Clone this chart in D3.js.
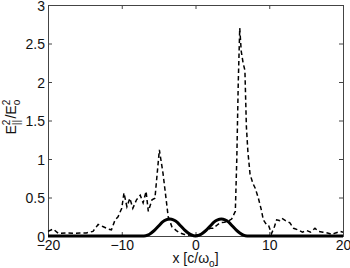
<!DOCTYPE html>
<html>
<head>
<meta charset="utf-8">
<script src="https://cdn.jsdelivr.net/npm/d3@7"></script>
<style>
  body { margin: 0; background: #fff; }
  svg text { font-family: "Liberation Sans", Arial, sans-serif; fill: #111; }
</style>
</head>
<body>
<div id="chart"></div>
<script>
// data
var xTicks = [-20, -10, 0, 10, 20];
var yTicks = [0, 0.5, 1, 1.5, 2, 2.5, 3];

// dashed curve: E_||^2 / E_o^2
var dashedPts = [
  [-20, 0.06], [-19.3, 0.09], [-18.6, 0.035], [-17.5, 0.04], [-16.6, 0.035], [-15.7, 0.04],
  [-14.8, 0.04], [-13.9, 0.06], [-13.2, 0.15], [-12.5, 0.12], [-11.8, 0.09], [-11.4, 0.08],
  [-10.9, 0.21], [-10.5, 0.25], [-10.0, 0.36], [-9.7, 0.56], [-9.3, 0.38], [-8.9, 0.49],
  [-8.5, 0.36], [-8.0, 0.47], [-7.5, 0.53], [-7.1, 0.43], [-6.7, 0.58], [-6.4, 0.32],
  [-5.9, 0.47], [-5.5, 0.49], [-4.9, 1.12], [-4.4, 0.81], [-3.7, 0.25], [-3.2, 0.12],
  [-2.6, 0.07], [-2.1, 0.04], [-1.5, 0.02], [-1.0, 0.01], [-0.5, 0.02], [0, 0.01],
  [0.5, 0.02], [1.0, 0.04], [1.5, 0.07], [2.0, 0.1], [2.4, 0.1], [2.9, 0.14],
  [3.3, 0.17], [3.9, 0.18], [4.4, 0.19], [4.9, 0.22], [5.4, 0.32], [5.6, 1.0],
  [5.8, 2.0], [6.0, 2.70], [6.2, 2.4], [6.45, 2.25], [6.7, 2.15], [6.9, 1.42],
  [7.1, 1.1], [7.4, 0.8], [7.8, 0.68], [8.1, 0.62], [8.5, 0.5], [8.9, 0.35],
  [9.2, 0.21], [9.6, 0.15], [9.9, 0.14], [10.3, 0.03], [10.7, 0.12], [11.0, 0.21],
  [11.4, 0.2], [11.7, 0.23], [12.2, 0.2], [12.8, 0.17], [13.3, 0.1], [13.9, 0.08],
  [14.5, 0.05], [15.1, 0.07], [15.6, 0.05], [16.2, 0.1], [16.7, 0.06], [17.3, 0.05],
  [17.9, 0.04], [18.5, 0.02], [19.0, 0.04], [19.6, 0.06], [20, 0.05]
];

// solid curve: two bumps
var solidX = [-20, -7, -6.5, -6, -5.5, -5, -4.5, -4, -3.5, -3, -2.5, -2, -1.5, -1, -0.5, 0,
              0.5, 1, 1.5, 2, 2.5, 3, 3.5, 4, 4.5, 5, 5.5, 6, 6.5, 7, 20];
var solidY = [0, 0, 0.01, 0.04, 0.08, 0.13, 0.18, 0.21, 0.22, 0.21, 0.18, 0.13, 0.08, 0.04, 0.01, 0,
              0.01, 0.04, 0.08, 0.13, 0.18, 0.21, 0.22, 0.21, 0.18, 0.13, 0.08, 0.04, 0.01, 0, 0];

var W = 350, H = 268;
var margin = { top: 5, right: 7, bottom: 32, left: 48 },
    width = W - margin.left - margin.right,
    height = H - margin.top - margin.bottom;

var svg = d3.select("#chart").append("svg")
    .attr("width", W)
    .attr("height", H);

var g = svg.append("g")
    .attr("transform", "translate(" + margin.left + "," + margin.top + ")");

var x = d3.scaleLinear().domain([-20, 20]).range([0, width]);
var y = d3.scaleLinear().domain([0, 3]).range([height, 0]);

var fmt = function (d) { return d3.format("")(d).replace("-", "\u2212"); };

// axes, matlab style: ticks inside, box on all sides
var ax = g.append("g")
    .attr("transform", "translate(0," + height + ")")
    .call(d3.axisBottom(x).tickValues(xTicks).tickSize(-4).tickPadding(4).tickFormat(fmt));
var ay = g.append("g")
    .call(d3.axisLeft(y).tickValues(yTicks).tickSize(-4).tickPadding(3).tickFormat(fmt));
var axTop = g.append("g")
    .call(d3.axisTop(x).tickValues(xTicks).tickSize(-4).tickFormat(""));
var ayRight = g.append("g")
    .attr("transform", "translate(" + width + ",0)")
    .call(d3.axisRight(y).tickValues(yTicks).tickSize(-4).tickFormat(""));

[ax, ay, axTop, ayRight].forEach(function (a) {
    a.select(".domain").attr("stroke", "#444").attr("stroke-width", 1);
    a.selectAll(".tick line").attr("stroke", "#444");
    a.selectAll("text").style("font-size", "14px").attr("fill", "#111");
});
ay.selectAll(".tick text").attr("dy", "0.38em");
ax.selectAll(".tick text").attr("dy", "0.71em");

var line = d3.line()
    .x(function (d) { return x(d[0]); })
    .y(function (d) { return y(d[1]); });

g.append("path")
    .datum(solidX.map(function (v, i) { return [v, solidY[i]]; }))
    .attr("fill", "none")
    .attr("stroke", "#000")
    .attr("stroke-width", 3)
    .attr("d", line.curve(d3.curveMonotoneX));

g.append("path")
    .datum(dashedPts)
    .attr("fill", "none")
    .attr("stroke", "#000")
    .attr("stroke-width", 1.5)
    .attr("stroke-dasharray", "4.5,3")
    .attr("d", line.curve(d3.curveLinear));

// x label: x [c/ω_o]
var xl = svg.append("text")
    .attr("x", margin.left + width / 2)
    .attr("y", 263)
    .attr("text-anchor", "middle")
    .style("font-size", "14px");
xl.append("tspan").text("x [c/\u03c9");
xl.append("tspan").text("o").attr("dy", 4).style("font-size", "10px");
xl.append("tspan").text("]").attr("dy", -4);

// y label: E^2_||/E^2_o, rotated
var yl = svg.append("g")
    .attr("transform", "translate(16," + (margin.top + height / 2 - 8) + ") rotate(-90)");
var cx = -22;
function piece(txt, size, dy) {
    var t = yl.append("text").attr("x", cx).attr("y", dy)
        .style("font-size", size + "px").text(txt);
    return t.node().getComputedTextLength();
}
var w = piece("E", 14, 0); cx += w;
var ws = piece("2", 10, -6);
piece("||", 10, 4);
cx += Math.max(ws, 4) + 1;
w = piece("/", 14, 0); cx += w;
w = piece("E", 14, 0); cx += w;
piece("2", 10, -6);
piece("o", 10, 4);
</script>
</body>
</html>
